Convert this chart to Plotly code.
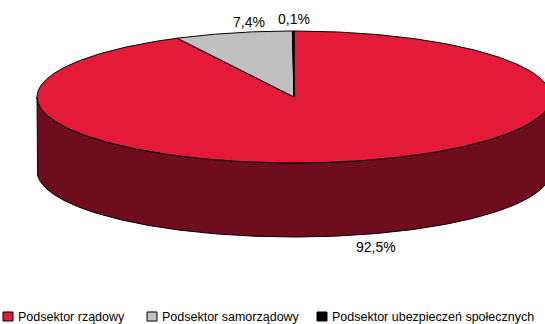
import numpy as np
import plotly.graph_objects as go

# Structure of the sector (share, %)
categories = ["Podsektor rządowy", "Podsektor samorządowy", "Podsektor ubezpieczeń społecznych"]
shares = [92.5, 7.4, 0.1]
labels = ["92,5%", "7,4%", "0,1%"]
top_colors = ["#E31A38", "#C0C0C0", "#000000"]
side_colors = ["#6F0C1E", "#606060", "#000000"]

# Pie geometry in pixel-like axis units
CX, CY = 294.0, 97.0
RX, RY = 257.0, 66.0
DEPTH = 74.0
W, H = 545, 324
FONT = "Liberation Sans, Arial, sans-serif"


def pt(theta_deg, dy=0.0):
    t = np.radians(theta_deg)
    return CX + RX * np.sin(t), CY - RY * np.cos(t) + dy


def arc(a0, a1, dy=0.0, n=None):
    if n is None:
        n = max(int(abs(a1 - a0) * 2), 2)
    th = np.linspace(a0, a1, n)
    x, y = pt(th, dy)
    return list(x), list(y)


total = float(sum(shares))
bounds = np.concatenate([[0.0], np.cumsum(shares) / total * 360.0])

fig = go.Figure()

# side walls (visible only on the front half, 90..270 deg clockwise from top)
for i in range(len(shares)):
    a0, a1 = max(bounds[i], 90.0), min(bounds[i + 1], 270.0)
    if a1 <= a0:
        continue
    xt, yt = arc(a0, a1)
    xb, yb = arc(a1, a0, DEPTH)
    fig.add_trace(go.Scatter(
        x=xt + xb + [xt[0]], y=yt + yb + [yt[0]],
        mode="lines", fill="toself", fillcolor=side_colors[i],
        line=dict(color="#000000", width=1), hoverinfo="skip", showlegend=False))

# top faces
for i in range(len(shares)):
    xa, ya = arc(bounds[i], bounds[i + 1])
    fig.add_trace(go.Scatter(
        x=[CX] + xa + [CX], y=[CY] + ya + [CY],
        mode="lines", fill="toself", fillcolor=top_colors[i],
        line=dict(color="#000000", width=1), hoverinfo="skip", showlegend=False))

# value labels outside each slice
label_nudge = [(10, -5), (28, 6), (1, 5)]
annotations = []
for i in range(len(shares)):
    mid = (bounds[i] + bounds[i + 1]) / 2.0
    k = 1.2
    front = 90.0 < mid < 270.0
    x, y = pt(mid)
    x = CX + (x - CX) * k + label_nudge[i][0]
    y = CY + (y - CY) * k + (DEPTH + 4 if front else -4) + label_nudge[i][1]
    annotations.append(dict(x=x, y=y, text=labels[i], showarrow=False,
                            xref="x", yref="y", xanchor="center", yanchor="middle",
                            font=dict(family=FONT, size=14, color="#000000")))

# legend row along the bottom
shapes = []
legend_x = [3, 147, 317]
for i, name in enumerate(categories):
    x0 = legend_x[i]
    shapes.append(dict(type="rect", xref="x", yref="y", x0=x0, x1=x0 + 10, y0=312, y1=321,
                       fillcolor=top_colors[i], line=dict(color="#000000", width=1)))
    annotations.append(dict(x=x0 + 13, y=316.5, text=name, showarrow=False,
                            xref="x", yref="y", xanchor="left", yanchor="middle",
                            font=dict(family=FONT, size=12.5, color="#000000")))

fig.update_layout(
    width=W, height=H,
    margin=dict(l=0, r=0, t=0, b=0),
    paper_bgcolor="#FFFFFF", plot_bgcolor="#FFFFFF",
    xaxis=dict(range=[0, W], visible=False, fixedrange=True),
    yaxis=dict(range=[H, 0], visible=False, fixedrange=True),
    shapes=shapes, annotations=annotations, showlegend=False,
)

fig.write_html("out.html")
